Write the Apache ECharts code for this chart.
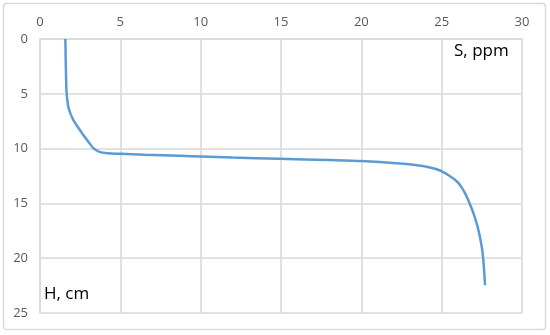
<!DOCTYPE html>
<html>
<head>
<meta charset="utf-8">
<script src="https://cdn.jsdelivr.net/npm/echarts@6/dist/echarts.min.js"></script>
<style>
  html, body { margin: 0; padding: 0; background: #fff; }
  #chart { width: 550px; height: 335px; }
</style>
</head>
<body>
<div id="chart"></div>
<script>
// salinity S (ppm) against depth H (cm)
const sValues = [1.58, 1.60, 1.63, 1.66, 1.78, 2.07, 2.60, 3.00, 3.32, 3.70, 4.20, 5.00, 6.50, 8.70,
  10.0, 12.0, 14.9, 18.0, 20.0, 22.4, 23.25, 24.2, 24.9, 25.5, 25.95, 26.2, 26.5, 26.73, 27.0, 27.23, 27.4,
  27.52, 27.6, 27.65, 27.7];
const hValues = [0, 2, 4, 5, 6.3, 7.38, 8.55, 9.35, 9.96, 10.3, 10.42, 10.47, 10.56, 10.66,
  10.72, 10.82, 10.93, 11.05, 11.14, 11.35, 11.48, 11.7, 12.0, 12.5, 13.0, 13.45, 14.2, 14.97, 16.0, 17.1, 18.2,
  19.2, 20.3, 21.3, 22.47];
const xLabel = 'S, ppm';
const yLabel = 'H, cm';

const chart = echarts.init(document.getElementById('chart'));
const gridColor = '#d9d9d9';
const labelStyle = { color: '#595959', fontSize: 13, fontFamily: 'Open Sans' };

chart.setOption({
  animation: false,
  grid: { left: 40, top: 39, right: 28, bottom: 22 },
  xAxis: {
    type: 'value', position: 'top',
    min: 0, max: 30, interval: 5,
    axisLine: { show: true, lineStyle: { color: gridColor, width: 1.5 } },
    axisTick: { show: false },
    axisLabel: Object.assign({ margin: 10 }, labelStyle),
    splitLine: { show: true, lineStyle: { color: gridColor, width: 1.5 } }
  },
  yAxis: {
    type: 'value', inverse: true,
    min: 0, max: 25, interval: 5,
    axisLine: { show: true, lineStyle: { color: gridColor, width: 1.5 } },
    axisTick: { show: false },
    axisLabel: Object.assign({ margin: 12 }, labelStyle),
    splitLine: { show: true, lineStyle: { color: gridColor, width: 1.5 } }
  },
  series: [{
    type: 'line',
    data: sValues.map((s, i) => [s, hValues[i]]),
    showSymbol: false,
    smooth: 0.25,
    lineStyle: { color: '#5b9bd5', width: 2.5 },
    itemStyle: { color: '#5b9bd5' }
  }],
  graphic: [
    {
      type: 'rect', silent: true,
      shape: { x: 3.5, y: 3.5, width: 542, height: 326, r: 3 },
      style: { fill: 'none', stroke: gridColor, lineWidth: 1.5 }
    },
    {
      type: 'text', left: 454, top: 43,
      style: { text: xLabel, fill: '#000', font: '17px "Open Sans"' }
    },
    {
      type: 'text', left: 44, top: 286,
      style: { text: yLabel, fill: '#000', font: '17px "Open Sans"' }
    }
  ]
});
</script>
</body>
</html>
